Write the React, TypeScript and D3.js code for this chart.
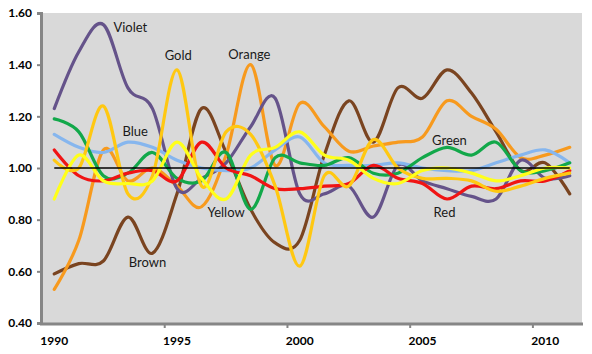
import * as d3 from "d3";
import { useEffect, useRef } from "react";

const WIDTH = 592;
const HEIGHT = 354;

const years = [1990, 1991, 1992, 1993, 1994, 1995, 1996, 1997, 1998, 1999, 2000, 2001, 2002, 2003, 2004, 2005, 2006, 2007, 2008, 2009, 2010, 2011];
const yTicks = [0.4, 0.6, 0.8, 1.0, 1.2, 1.4, 1.6];
const xTicks = [1990, 1995, 2000, 2005, 2010];

const brown = [0.59, 0.63, 0.64, 0.81, 0.67, 0.9, 1.23, 1.06, 0.84, 0.71, 0.72, 1.05, 1.26, 1.1, 1.31, 1.27, 1.38, 1.29, 1.14, 0.99, 1.02, 0.9];
const orange = [0.53, 0.72, 1.07, 0.95, 1.0, 0.93, 0.85, 1.05, 1.4, 1.01, 1.25, 1.16, 1.065, 1.085, 1.1, 1.12, 1.26, 1.2, 1.15, 1.04, 1.05, 1.08];
const violet = [1.23, 1.45, 1.555, 1.31, 1.23, 0.92, 0.96, 1.02, 1.16, 1.27, 0.9, 0.9, 0.93, 0.81, 1.01, 0.95, 0.92, 0.89, 0.88, 1.03, 0.96, 0.97];
const blue = [1.13, 1.08, 1.06, 1.1, 1.08, 1.03, 1.0, 0.99, 1.0, 1.07, 1.12, 1.02, 1.01, 1.01, 1.02, 1.0, 0.99, 0.99, 1.02, 1.05, 1.07, 1.02];
const green = [1.19, 1.14, 0.97, 0.98, 1.06, 0.96, 0.95, 1.06, 0.84, 1.04, 1.02, 1.01, 1.04, 0.98, 0.98, 1.04, 1.08, 1.05, 1.1, 0.99, 0.99, 1.02];
const red = [1.07, 0.97, 0.95, 0.98, 0.99, 0.95, 1.1, 1.0, 0.97, 0.92, 0.92, 0.93, 0.94, 1.01, 0.96, 0.94, 0.88, 0.93, 0.92, 0.95, 0.95, 0.99];
const gold = [1.03, 1.0, 1.24, 0.9, 0.97, 1.38, 0.93, 1.14, 1.13, 0.93, 0.62, 0.97, 0.93, 1.11, 1.0, 0.96, 0.96, 0.95, 0.91, 0.93, 0.96, 0.98];
const yellow = [0.88, 1.05, 0.95, 0.94, 0.95, 1.1, 0.96, 0.88, 1.05, 1.08, 1.14, 1.05, 1.03, 0.96, 0.94, 0.99, 1.0, 0.98, 0.95, 0.97, 1.0, 1.0];

// label anchors in data units: [year, value]
const labels: { name: string; at: [number, number] }[] = [
    { name: "Violet", at: [1993.1, 1.54] },
    { name: "Gold", at: [1995.05, 1.43] },
    { name: "Blue", at: [1993.3, 1.135] },
    { name: "Orange", at: [1997.95, 1.435] },
    { name: "Green", at: [2006.1, 1.1] },
    { name: "Red", at: [2005.9, 0.825] },
    { name: "Yellow", at: [1997.0, 0.825] },
    { name: "Brown", at: [1993.8, 0.63] },
];

const series = [
    { name: "Brown", color: "#7a4420", values: brown },
    { name: "Orange", color: "#f79a1e", values: orange },
    { name: "Violet", color: "#65538a", values: violet },
    { name: "Blue", color: "#86b6ee", values: blue },
    { name: "Green", color: "#12a84a", values: green },
    { name: "Red", color: "#f01414", values: red },
    { name: "Gold", color: "#ffc812", values: gold },
    { name: "Yellow", color: "#ffff1a", values: yellow },
];

function Chart() {
    const svgRef = useRef<SVGSVGElement | null>(null);

    useEffect(() => {
        if (!svgRef.current) return;
        const svg = d3.select(svgRef.current);
        svg.selectAll("*").remove();

        const margin = { top: 13, right: 10, bottom: 31, left: 42 };
        const x = d3.scaleBand<number>().domain(years).range([margin.left, WIDTH - margin.right]);
        const bw = x.bandwidth();
        const cx = (yr: number) => (x(yr) ?? 0) + bw / 2;
        const xLin = d3.scaleLinear().domain([years[0], years[years.length - 1]]).range([cx(years[0]), cx(years[years.length - 1])]);
        const y = d3.scaleLinear().domain([0.4, 1.6]).range([HEIGHT - margin.bottom, margin.top]);

        svg.append("rect")
            .attr("x", margin.left)
            .attr("y", margin.top)
            .attr("width", WIDTH - margin.right - margin.left)
            .attr("height", HEIGHT - margin.bottom - margin.top)
            .attr("fill", "#d9d9d9");

        const line = d3
            .line<number>()
            .x((_, i) => cx(years[i]))
            .y((d) => y(d))
            .curve(d3.curveCardinal.tension(0));

        svg.append("g")
            .selectAll("path")
            .data(series)
            .enter()
            .append("path")
            .attr("d", (d) => line(d.values))
            .attr("fill", "none")
            .attr("stroke", (d) => d.color)
            .attr("stroke-width", 3.2)
            .attr("stroke-linejoin", "round")
            .attr("stroke-linecap", "round");

        // 1.00 reference line
        svg.append("line")
            .attr("x1", cx(years[0]))
            .attr("x2", cx(years[years.length - 1]))
            .attr("y1", y(1))
            .attr("y2", y(1))
            .attr("stroke", "#000")
            .attr("stroke-width", 1.3);

        // y axis
        const yAxis = svg
            .append("g")
            .attr("transform", `translate(${margin.left - 1},0)`)
            .call(d3.axisLeft(y).tickValues(yTicks).tickFormat(d3.format(".2f")).tickSize(4).tickPadding(5));
        yAxis.select(".domain").attr("stroke", "#868686").attr("stroke-width", 3);
        yAxis.selectAll(".tick line").attr("stroke", "#868686").attr("stroke-width", 2);
        yAxis.selectAll("text").attr("font-family", "Lato, 'Open Sans', sans-serif").attr("font-size", 12).attr("font-weight", "bold").attr("fill", "#000");

        // x axis
        const xAxis = svg
            .append("g")
            .attr("transform", `translate(0,${HEIGHT - margin.bottom + 1})`)
            .call(d3.axisBottom(x).tickValues(xTicks).tickSize(0).tickPadding(12).tickSizeOuter(0));
        xAxis.select(".domain").attr("stroke", "#868686").attr("stroke-width", 3).attr("d", `M${margin.left - 2},0H${WIDTH - margin.right + 1}`);
        xAxis.selectAll("text").attr("font-family", "Lato, 'Open Sans', sans-serif").attr("font-size", 12).attr("font-weight", "bold").attr("fill", "#000");
        xAxis
            .selectAll("line.boundary")
            .data(xTicks.slice(1))
            .enter()
            .append("line")
            .attr("class", "boundary")
            .attr("x1", (d) => x(d) ?? 0)
            .attr("x2", (d) => x(d) ?? 0)
            .attr("y1", 0)
            .attr("y2", 4)
            .attr("stroke", "#868686")
            .attr("stroke-width", 2);

        svg.append("g")
            .selectAll("text")
            .data(labels)
            .enter()
            .append("text")
            .attr("x", (d) => xLin(d.at[0]))
            .attr("y", (d) => y(d.at[1]))
            .attr("text-anchor", "middle")
            .attr("dominant-baseline", "middle")
            .attr("font-family", "Lato, 'Open Sans', sans-serif")
            .attr("font-size", 13)
            .attr("fill", "#1a1a1a")
            .text((d) => d.name);

        return () => {
            svg.selectAll("*").remove();
        };
    }, []);

    return <svg ref={svgRef} width={WIDTH} height={HEIGHT} style={{ display: "block" }} />;
}

export default function App() {
    return (
        <div style={{ position: "absolute", left: 0, top: 0, width: WIDTH, height: HEIGHT, background: "#fff" }}>
            <Chart />
        </div>
    );
}
